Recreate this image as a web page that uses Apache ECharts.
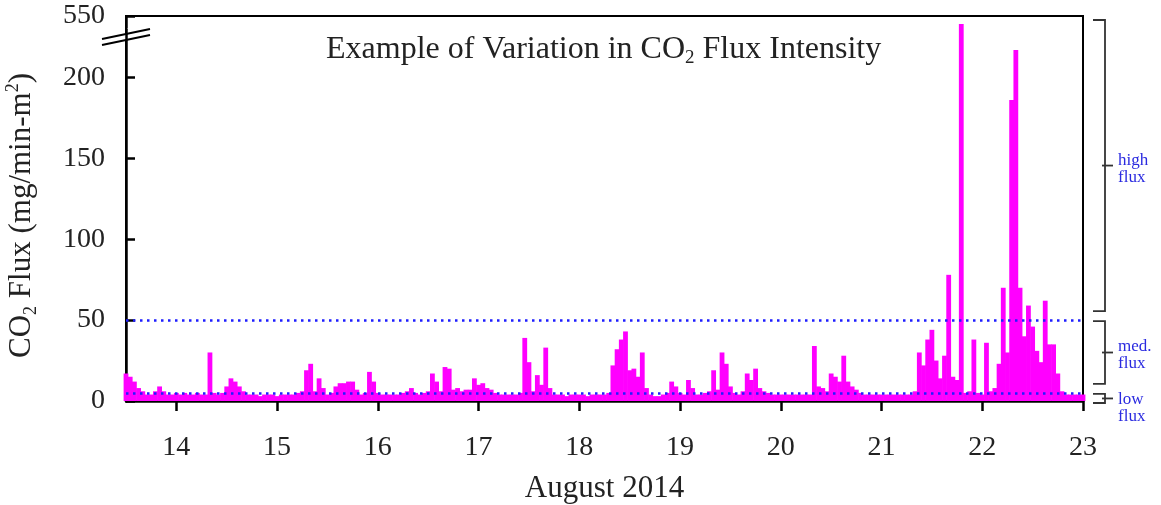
<!DOCTYPE html>
<html>
<head>
<meta charset="utf-8">
<style>
html, body { margin: 0; padding: 0; background: #fff; }
#main { width: 1161px; height: 505px; }
</style>
</head>
<body>
<div id="main"></div>
<script src="https://cdn.jsdelivr.net/npm/echarts@6.0.0/dist/echarts.min.js"></script>
<script>
// hourly CO2 flux samples, first one at Aug 13, 12:00
var startDay = 13.5;
var flux = [
	17, 15, 12, 8, 6, 4, 4, 6, 9, 6, 4, 4, 5, 4, 5, 4, 4, 5, 4, 4, 30, 5, 4, 5,
	9, 14, 12, 9, 6, 4, 4, 4, 3, 4, 4, 4, 3, 4, 4, 4, 4, 5, 6, 19, 23, 6, 14, 8,
	4, 5, 9, 11, 11, 12, 12, 7, 4, 5, 18, 12, 5, 4, 4, 4, 4, 4, 5, 6, 8, 5, 4, 5,
	6, 17, 12, 6, 21, 20, 7, 8, 6, 7, 7, 14, 10, 11, 8, 7, 5, 4, 4, 4, 4, 4, 5, 39,
	24, 6, 16, 10, 33, 8, 4, 4, 4, 3, 4, 4, 4, 4, 3, 4, 4, 4, 4, 5, 22, 32, 38, 43,
	19, 20, 15, 30, 8, 4, 3, 3, 4, 5, 12, 9, 5, 4, 13, 8, 4, 4, 5, 6, 19, 7, 30, 23,
	9, 5, 4, 6, 17, 13, 20, 8, 6, 5, 4, 4, 4, 4, 4, 4, 4, 4, 4, 4, 34, 9, 8, 6,
	17, 15, 12, 28, 12, 9, 7, 5, 4, 4, 4, 4, 4, 4, 4, 4, 4, 4, 4, 4, 6, 30, 22, 38,
	44, 25, 14, 28, 78, 15, 13, 545, 5, 6, 38, 5, 4, 36, 6, 8, 23, 70, 30, 186, 217, 70, 40, 59,
	46, 31, 24, 62, 35, 35, 17, 6, 4, 4, 4, 4, 4
];
var dayTicks = [14, 15, 16, 17, 18, 19, 20, 21, 22, 23];
var fluxTicks = [0, 50, 100, 150, 200, 550];
var lowLimit = 5;
var medLimit = 50;
var fluxMax = 550;
var breakStart = 230;
var breakEnd = 543;
var classes = [
	{ name: 'high\nflux', from: fluxMax, to: medLimit },
	{ name: 'med.\nflux', from: medLimit, to: lowLimit },
	{ name: 'low\nflux', from: lowLimit, to: 0 }
];

var serif = '"Liberation Serif", "DejaVu Serif", serif';
var myChart = echarts.init(document.getElementById('main'));

var data = flux.map((v, i) => [startDay + i / 24, v]);

myChart.setOption({
	animation: false,
	title: {
		text: '{t|Example of Variation in CO}{s|2}{t| Flux Intensity}',
		left: 321,
		top: 27,
		textStyle: {
			rich: {
				t: { fontFamily: serif, fontSize: 32, fontWeight: 'normal', lineHeight: 36, color: '#222' },
				s: { fontFamily: serif, fontSize: 19, fontWeight: 'normal', lineHeight: 18, verticalAlign: 'bottom', color: '#222' }
			}
		}
	},
	grid: {
		left: 126, right: 78, top: 16, bottom: 104,
		outerBoundsMode: 'none',
		containLabel: false,
		show: true, borderColor: '#000', borderWidth: 2
	},
	xAxis: {
		type: 'value',
		min: 13.5,
		max: 23,
		name: 'August 2014',
		nameLocation: 'middle',
		nameGap: 72,
		nameTextStyle: { fontFamily: serif, fontSize: 31, color: '#222' },
		axisLine: { lineStyle: { color: '#000', width: 2.5 } },
		axisTick: { customValues: dayTicks, length: 10, lineStyle: { color: '#000', width: 2.5 } },
		axisLabel: { customValues: dayTicks, margin: 33, fontFamily: serif, fontSize: 28, color: '#222' },
		splitLine: { show: false }
	},
	yAxis: {
		type: 'value',
		min: 0,
		max: fluxMax,
		breaks: [{ start: breakStart, end: breakEnd, gap: 1 }],
		breakArea: { show: false },
		name: '{t|CO}{s|2}{t| Flux (mg/min-m}{p|2}{t|)}',
		nameLocation: 'middle',
		nameGap: 86,
		nameTextStyle: {
			padding: [0, 14, 0, 0],
			rich: {
				t: { fontFamily: serif, fontSize: 31, lineHeight: 36, color: '#222' },
				s: { fontFamily: serif, fontSize: 18, lineHeight: 18, verticalAlign: 'bottom', color: '#222' },
				p: { fontFamily: serif, fontSize: 18, lineHeight: 18, verticalAlign: 'top', color: '#222' }
			}
		},
		axisLine: { show: true, lineStyle: { color: '#000', width: 2.5 } },
		axisTick: { show: true, inside: true, customValues: fluxTicks, length: 9, lineStyle: { color: '#000', width: 2.5 } },
		axisLabel: { customValues: fluxTicks, margin: 21, fontFamily: serif, fontSize: 28, color: '#222' },
		splitLine: { show: false }
	},
	series: [{
		type: 'bar',
		data: data,
		barWidth: 4.8,
		itemStyle: { color: '#ff00ff' },
		markLine: {
			silent: true,
			symbol: 'none',
			label: { show: false },
			lineStyle: { color: '#1e1eff', type: [2.5, 4.5], width: 2.6 },
			data: [{ yAxis: medLimit }, { yAxis: lowLimit }]
		}
	}]
});

// flux class brackets on the right and the axis break mark
var yPx = v => myChart.convertToPixel({ yAxisIndex: 0 }, v);
var xRight = myChart.convertToPixel({ xAxisIndex: 0 }, 23);
var xLeft = myChart.convertToPixel({ xAxisIndex: 0 }, 13.5);
var graphics = [];
var bx = xRight + 22;
var pen = { stroke: '#333', lineWidth: 1.8, fill: null };
classes.forEach((c, k) => {
	var y1 = yPx(c.from) + (k === 0 ? 4 : 1);
	var y2 = yPx(c.to) - (k === 2 ? -2 : 9);
	var ym = (y1 + y2) / 2;
	graphics.push({
		type: 'polyline',
		shape: { points: [[bx - 12, y1], [bx, y1], [bx, y2], [bx - 12, y2]] },
		style: pen
	});
	graphics.push({
		type: 'line',
		shape: { x1: bx - 3, y1: ym, x2: bx + 8, y2: ym },
		style: pen
	});
	graphics.push({
		type: 'text',
		x: bx + 13,
		y: ym + (k === 2 ? 10 : 3),
		style: {
			text: c.name, fill: '#2a2ae0', font: '17px ' + serif,
			lineHeight: 17, verticalAlign: 'middle', align: 'left'
		}
	});
});
var yb = yPx(breakStart) + 8;
graphics.push({
	type: 'polygon',
	shape: { points: [[xLeft - 24, yb + 8], [xLeft + 24, yb - 2], [xLeft + 24, yb - 8], [xLeft - 24, yb + 2]] },
	style: { fill: '#fff' }
});
graphics.push({
	type: 'line',
	shape: { x1: xLeft - 24, y1: yb + 8, x2: xLeft + 24, y2: yb - 2 },
	style: { stroke: '#000', lineWidth: 2 }
});
graphics.push({
	type: 'line',
	shape: { x1: xLeft - 24, y1: yb + 2, x2: xLeft + 24, y2: yb - 8 },
	style: { stroke: '#000', lineWidth: 2 }
});
myChart.setOption({ graphic: graphics });
</script>
</body>
</html>
